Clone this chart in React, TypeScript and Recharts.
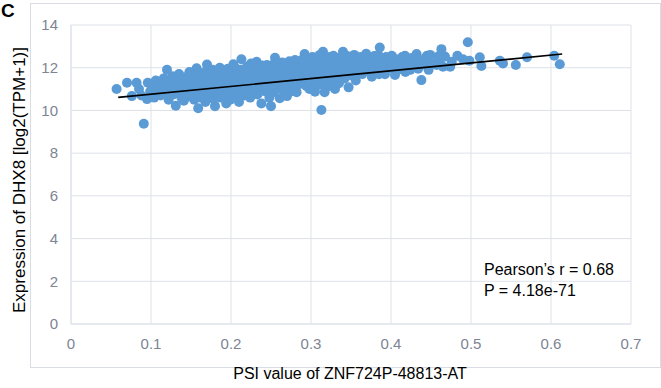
import React from 'react';
import { ScatterChart, Scatter, XAxis, YAxis, CartesianGrid } from 'recharts';

const lowPsi: [number, number][] = [
  [0.057, 11.0], [0.07, 11.3], [0.076, 10.67], [0.082, 11.3], [0.085, 11.0], [0.091, 9.38],
  [0.095, 10.53], [0.096, 11.3], [0.088, 10.7], [0.099, 10.9],
  [0.102, 11.1], [0.104, 10.6], [0.106, 11.4], [0.108, 10.85], [0.11, 11.2],
  [0.112, 10.7], [0.114, 11.05], [0.116, 11.5], [0.118, 10.9], [0.12, 11.9], [0.119, 11.25],
  [0.122, 10.5], [0.124, 11.3], [0.125, 10.95], [0.127, 11.6], [0.128, 10.75], [0.129, 11.15],
  [0.131, 10.22], [0.132, 11.45], [0.134, 10.9], [0.135, 11.7], [0.137, 11.1], [0.138, 10.6], [0.139, 11.35],
  [0.141, 10.45], [0.142, 11.0], [0.143, 11.55], [0.145, 10.8], [0.146, 11.25], [0.148, 11.8], [0.149, 10.65], [0.15, 11.4],
];

const midPsi: [number, number][] = [
  [0.151, 10.95], [0.152, 11.65], [0.154, 10.5], [0.155, 11.2], [0.157, 11.97], [0.158, 10.8], [0.159, 10.1], [0.16, 11.45], [0.156, 11.05],
  [0.161, 11.75], [0.162, 10.6], [0.163, 11.3], [0.164, 10.9], [0.166, 11.55], [0.167, 11.1], [0.168, 10.4], [0.169, 11.85], [0.17, 12.15], [0.165, 11.4],
  [0.171, 10.75], [0.172, 11.25], [0.173, 11.6], [0.174, 10.95], [0.176, 11.45], [0.177, 11.9], [0.178, 10.55], [0.179, 11.15], [0.18, 10.2], [0.175, 11.7],
  [0.181, 11.35], [0.182, 11.8], [0.183, 10.85], [0.184, 11.5], [0.185, 11.05], [0.186, 12.0], [0.187, 10.6], [0.188, 11.3], [0.189, 11.65], [0.19, 10.9],
  [0.191, 11.2], [0.192, 11.75], [0.193, 10.7], [0.194, 10.33], [0.195, 11.45], [0.196, 11.95], [0.197, 11.0], [0.198, 11.6], [0.199, 10.5], [0.2, 11.3],
  [0.201, 11.85], [0.202, 10.85], [0.203, 12.16], [0.204, 11.15], [0.205, 11.55], [0.206, 10.65], [0.207, 11.4], [0.208, 11.7], [0.209, 11.0], [0.21, 10.4], [0.205, 12.0],
  [0.211, 11.25], [0.212, 11.9], [0.213, 12.4], [0.214, 10.9], [0.215, 11.6], [0.216, 11.35], [0.217, 10.7], [0.218, 11.8], [0.219, 11.1], [0.22, 12.05],
  [0.221, 11.45], [0.222, 10.95], [0.223, 11.7], [0.224, 10.6], [0.225, 12.2], [0.226, 11.3], [0.227, 11.55], [0.228, 10.8], [0.229, 11.95], [0.23, 11.15],
  [0.231, 11.65], [0.232, 12.28], [0.233, 10.75], [0.234, 11.4], [0.235, 11.85], [0.236, 11.0], [0.237, 11.55], [0.238, 10.33], [0.239, 12.1], [0.24, 11.25],
  [0.241, 11.75], [0.242, 10.9], [0.243, 11.5], [0.244, 12.0], [0.245, 12.13], [0.246, 11.1], [0.247, 11.65], [0.248, 10.6], [0.249, 11.35], [0.25, 10.2],
  [0.251, 11.9], [0.252, 11.45], [0.253, 10.85], [0.254, 12.2], [0.255, 12.47], [0.256, 11.2], [0.257, 11.7], [0.258, 11.0], [0.259, 11.55], [0.26, 12.05],
  [0.261, 10.57], [0.262, 11.8], [0.263, 11.3], [0.264, 12.25], [0.265, 11.6], [0.266, 10.95], [0.267, 11.95], [0.268, 11.4], [0.269, 12.1], [0.27, 10.67],
  [0.271, 11.7], [0.272, 11.15], [0.273, 12.3], [0.274, 11.5], [0.275, 11.85], [0.276, 10.9], [0.277, 12.0], [0.278, 11.35], [0.279, 11.65], [0.28, 12.36],
  [0.281, 11.05], [0.282, 10.85], [0.283, 11.9], [0.284, 12.15], [0.285, 11.5], [0.286, 11.75], [0.287, 11.25], [0.288, 12.35], [0.289, 11.6], [0.29, 12.0],
  [0.291, 11.4], [0.292, 12.64], [0.293, 11.8], [0.294, 11.15], [0.295, 12.2], [0.296, 11.55], [0.297, 12.45], [0.298, 11.0], [0.299, 11.95], [0.3, 12.3],
];

const highPsi: [number, number][] = [
  [0.301, 11.7], [0.302, 12.5], [0.303, 11.3], [0.304, 12.1], [0.305, 10.88], [0.306, 11.85], [0.307, 12.35], [0.308, 11.5], [0.309, 12.0], [0.31, 11.2],
  [0.311, 12.6], [0.312, 11.65], [0.313, 10.02], [0.314, 12.25], [0.315, 12.75], [0.316, 11.4], [0.317, 10.85], [0.318, 11.9], [0.319, 12.4], [0.32, 11.1],
  [0.321, 12.1], [0.322, 11.75], [0.323, 12.5], [0.324, 11.3], [0.325, 12.0], [0.326, 11.55], [0.327, 12.3], [0.328, 12.56], [0.329, 11.85], [0.33, 11.0],
  [0.331, 12.2], [0.332, 11.6], [0.334, 12.45], [0.335, 11.27], [0.336, 11.95], [0.338, 12.15], [0.339, 11.75], [0.34, 12.75],
  [0.341, 12.3], [0.342, 11.5], [0.344, 12.05], [0.345, 12.55], [0.347, 11.08], [0.348, 11.85], [0.349, 12.4], [0.35, 11.65],
  [0.351, 12.2], [0.353, 11.95], [0.354, 12.6], [0.356, 11.4], [0.357, 12.35], [0.359, 11.8],
  [0.361, 12.1], [0.362, 12.5], [0.364, 11.7], [0.366, 12.25], [0.367, 11.95], [0.369, 12.65],
  [0.371, 12.0], [0.372, 12.4], [0.374, 11.8], [0.376, 11.58], [0.377, 12.2], [0.379, 12.55],
  [0.381, 11.9], [0.383, 12.3], [0.384, 12.6], [0.385, 11.69], [0.386, 12.95], [0.388, 12.1], [0.389, 12.45],
  [0.391, 12.2], [0.3925, 11.69], [0.394, 12.5], [0.396, 11.95], [0.398, 12.35],
  [0.401, 12.56], [0.403, 12.15], [0.405, 11.66], [0.406, 12.4], [0.408, 11.9], [0.41, 12.25],
  [0.412, 12.05], [0.414, 12.5], [0.4175, 12.56], [0.418, 11.8], [0.42, 12.3],
  [0.422, 12.1], [0.424, 11.9], [0.426, 12.45], [0.428, 12.2],
  [0.432, 12.64], [0.434, 11.95], [0.436, 12.3], [0.438, 11.42],
  [0.441, 12.15], [0.443, 12.45], [0.445, 12.56], [0.447, 11.9], [0.449, 12.6],
  [0.451, 12.2], [0.457, 12.13], [0.459, 12.52], [0.463, 12.87], [0.465, 12.05], [0.4675, 12.52], [0.461, 12.35],
  [0.474, 12.05], [0.476, 12.28], [0.483, 12.56], [0.496, 13.19], [0.498, 12.33], [0.49, 12.4],
  [0.511, 12.49], [0.513, 12.08], [0.536, 12.33], [0.54, 12.2], [0.556, 12.13], [0.57, 12.49], [0.604, 12.56], [0.611, 12.16],
];

// linear fit endpoints as drawn
const trendLine: [number, number][] = [[0.059, 10.61], [0.614, 12.64]];

const xTicks = [0, 0.1, 0.2, 0.3, 0.4, 0.5, 0.6, 0.7];
const yTicks = [0, 2, 4, 6, 8, 10, 12, 14];

const toPoints = (rows: [number, number][]) => rows.map(([psi, expr]) => ({ psi, expr }));
const samples = toPoints([...lowPsi, ...midPsi, ...highPsi]);
const fit = toPoints(trendLine);

const font = '"Liberation Sans", Arial, sans-serif';
const tickStyle = { fill: '#7d8492', fontSize: 15, fontFamily: font };

const Dot = (props: any) => <circle cx={props.cx} cy={props.cy} r={5} fill="#5b9bd5" />;

export default function App() {
  return (
    <div style={{ position: 'absolute', left: 0, top: 0, width: 661, height: 388, background: '#fff', fontFamily: font }}>
      <div style={{ position: 'absolute', left: 30, top: 3, width: 629, height: 363, border: '1px solid #d9dde3' }} />
      <div style={{ position: 'absolute', left: 1, top: 0, fontSize: 19, fontWeight: 'bold', color: '#000' }}>C</div>
      <ScatterChart width={661} height={388} margin={{ top: 25, right: 30, bottom: 34, left: 31 }} style={{ position: 'absolute', left: 0, top: 0 }}>
        <CartesianGrid stroke="#dde1e8" horizontalValues={yTicks} verticalValues={xTicks} />
        <XAxis type="number" dataKey="psi" domain={[0, 0.7]} ticks={xTicks} tickLine={false} tickSize={0} tickMargin={14}
          axisLine={{ stroke: '#dde1e8' }} tick={tickStyle} height={30} />
        <YAxis type="number" dataKey="expr" domain={[0, 14]} ticks={yTicks} tickLine={false} tickSize={0} tickMargin={13}
          axisLine={{ stroke: '#dde1e8' }} tick={tickStyle} width={40} />
        <Scatter data={samples} shape={Dot} isAnimationActive={false} />
        <Scatter data={fit} line={{ stroke: '#000', strokeWidth: 1.6 }} shape={() => null} isAnimationActive={false} />
      </ScatterChart>
      <div style={{ position: 'absolute', left: 484, top: 259, fontSize: 16, color: '#000', lineHeight: '21px' }}>
        <div>Pearson’s r = 0.68</div>
        <div>P = 4.18e-71</div>
      </div>
      <div style={{ position: 'absolute', left: 0, width: 700, top: 365, textAlign: 'center', fontSize: 16, color: '#000' }}>
        PSI value of ZNF724P-48813-AT
      </div>
      <div style={{ position: 'absolute', left: 20, top: 180, width: 0, height: 0 }}>
        <div style={{ position: 'absolute', transform: 'translate(-50%, -50%) rotate(-90deg)', whiteSpace: 'nowrap', fontSize: 17, color: '#000' }}>
          Expression of DHX8 [log2(TPM+1)]
        </div>
      </div>
    </div>
  );
}
